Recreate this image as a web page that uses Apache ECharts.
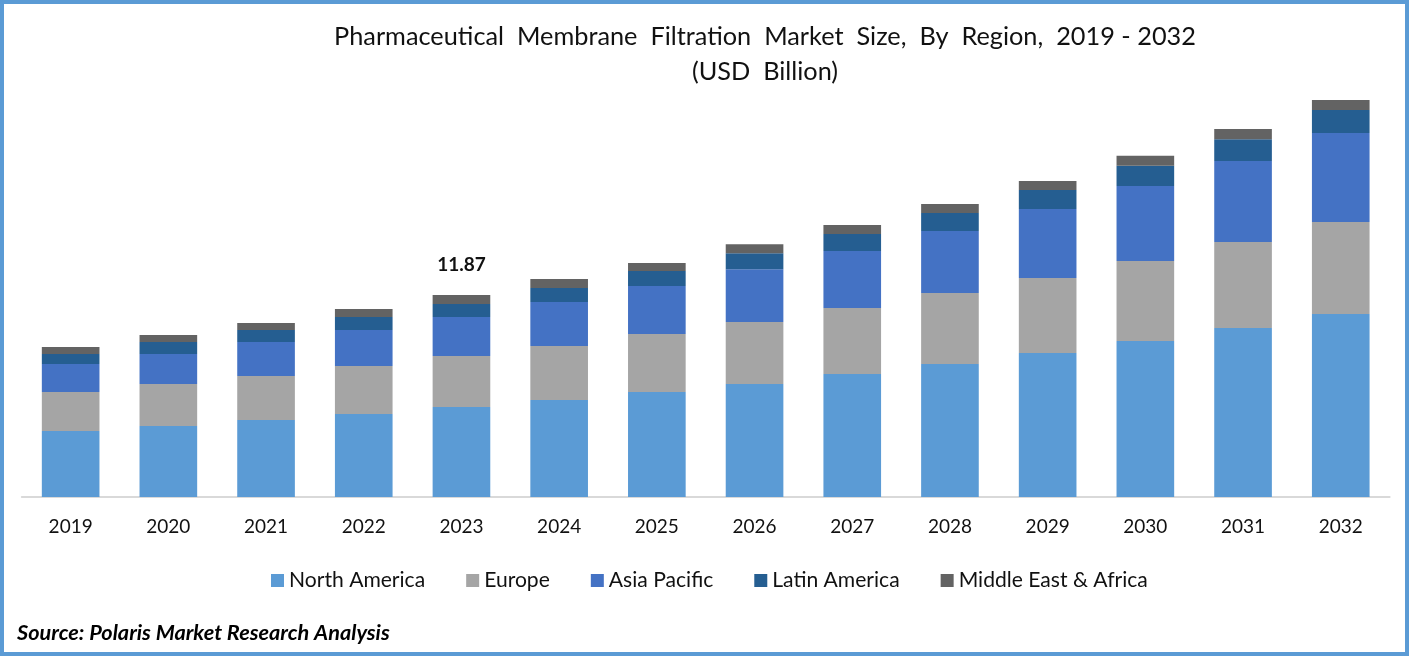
<!DOCTYPE html>
<html>
<head>
<meta charset="utf-8">
<title>Pharmaceutical Membrane Filtration Market Size</title>
<style>
  html, body { margin: 0; padding: 0; background: #fff; }
  #chart { width: 1409px; height: 656px; }
</style>
<script src="https://cdn.jsdelivr.net/npm/echarts@6/dist/echarts.min.js"></script>
</head>
<body>
<div id="chart"></div>
<script>
// values, USD billion
const years = ['2019', '2020', '2021', '2022', '2023', '2024', '2025', '2026', '2027', '2028', '2029', '2030', '2031', '2032'];
const northAmerica = [3.88, 4.17, 4.52, 4.88, 5.29, 5.70, 6.17, 6.64, 7.23, 7.82, 8.46, 9.17, 9.93, 10.75];
const europe = [2.29, 2.47, 2.59, 2.82, 3.00, 3.17, 3.41, 3.64, 3.88, 4.17, 4.41, 4.70, 5.05, 5.41];
const asiaPacific = [1.65, 1.76, 2.00, 2.12, 2.29, 2.59, 2.82, 3.11, 3.35, 3.64, 4.05, 4.41, 4.76, 5.23];
const latinAmerica = [0.59, 0.71, 0.71, 0.76, 0.76, 0.82, 0.88, 0.94, 1.00, 1.06, 1.12, 1.18, 1.29, 1.35];
const middleEast = [0.41, 0.41, 0.41, 0.47, 0.53, 0.53, 0.47, 0.53, 0.53, 0.53, 0.53, 0.59, 0.59, 0.59];
const labelledYear = '2023';
const labelledTotal = '11.87';

const FONT = 'Lato';
const seriesDefs = [
  { name: 'North America', values: northAmerica, color: '#5B9BD5' },
  { name: 'Europe', values: europe, color: '#A5A5A5' },
  { name: 'Asia Pacific', values: asiaPacific, color: '#4472C4' },
  { name: 'Latin America', values: latinAmerica, color: '#255E91' },
  { name: 'Middle East & Africa', values: middleEast, color: '#636363' }
];

const chart = echarts.init(document.getElementById('chart'), null, { renderer: 'canvas' });

chart.setOption({
  animation: false,
  backgroundColor: '#fff',
  textStyle: { fontFamily: FONT },
  title: [
    {
      text: 'Pharmaceutical  Membrane  Filtration  Market  Size,  By  Region,  2019 - 2032\n(USD  Billion)',
      left: 765,
      top: 19,
      padding: 0,
      textAlign: 'center',
      textStyle: { fontFamily: FONT, fontSize: 25.3, fontWeight: 'normal', color: '#111', lineHeight: 35 }
    },
    {
      text: 'Source: Polaris Market Research Analysis',
      left: 17,
      top: 622,
      padding: 0,
      textStyle: { fontFamily: FONT, fontSize: 21.7, fontWeight: 'bold', fontStyle: 'italic', color: '#000' }
    }
  ],
  legend: {
    left: 271,
    top: 570,
    itemWidth: 13,
    itemHeight: 13,
    itemGap: 41,
    padding: 0,
    icon: 'rect',
    textStyle: { fontFamily: FONT, fontSize: 21.1, color: '#111' }
  },
  grid: { left: 21.8, right: 19.4, top: 88.6, bottom: 159 },
  xAxis: {
    type: 'category',
    data: years,
    offset: 1,
    axisTick: { show: false },
    axisLine: { lineStyle: { color: '#D9D9D9', width: 2 } },
    axisLabel: { fontFamily: FONT, fontSize: 19, color: '#111', margin: 19 }
  },
  yAxis: { type: 'value', min: 0, max: 24, show: false, splitLine: { show: false } },
  series: seriesDefs.map(function (def, s) {
    return {
      name: def.name,
      type: 'bar',
      stack: 'total',
      barWidth: '59%',
      itemStyle: { color: def.color },
      data: def.values.map(function (v, i) {
        if (s === seriesDefs.length - 1 && years[i] === labelledYear) {
          return {
            value: v,
            label: {
              show: true,
              position: 'top',
              distance: 21,
              formatter: labelledTotal,
              fontFamily: FONT,
              fontSize: 19,
              fontWeight: 'bold',
              color: '#111'
            }
          };
        }
        return v;
      })
    };
  }),
  graphic: [
    {
      type: 'rect',
      silent: true,
      z: 100,
      shape: { x: 2, y: 2, width: 1405, height: 652 },
      style: { fill: 'none', stroke: '#5B9BD5', lineWidth: 4 }
    }
  ]
});
</script>
</body>
</html>
